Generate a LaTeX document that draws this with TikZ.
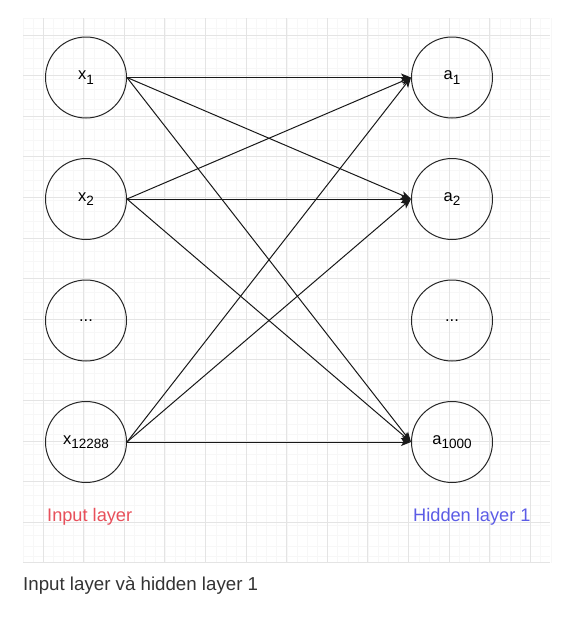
\documentclass[tikz,border=0pt]{standalone}
\usepackage{fontspec}
\setmainfont{Liberation Sans}
\definecolor{gridmajor}{HTML}{E4E4E4}
\definecolor{gridminor}{HTML}{F7F7F7}
\definecolor{inputred}{HTML}{E8505B}
\definecolor{hiddenblue}{HTML}{5C5CE6}
\definecolor{captiongray}{HTML}{333333}
\usetikzlibrary{arrows.meta}
\newcommand{\lsub}[1]{\raisebox{-4.5pt}{\fontsize{13.5pt}{13.5pt}\selectfont #1}}

\begin{document}
\begin{tikzpicture}[x=1pt, y=-1pt,
    neuron/.style={draw=black!85, line width=1pt, circle, minimum size=81pt, inner sep=0pt,
                   font=\fontsize{16.5pt}{16.5pt}\selectfont},
    wgt/.style={-{Stealth[length=10pt, width=8pt, inset=2.5pt]}, black!90, line width=1pt},
    lyr/.style={anchor=west, inner sep=0pt, font=\fontsize{18.2pt}{18.2pt}\selectfont}]
    \useasboundingbox (0,0) rectangle (577,627);
    \fill[white] (0,0) rectangle (577,627);
    % grid
    \foreach \gx in {0,...,52} \draw[gridminor, line width=0.6pt] (23+10.15*\gx,18) -- (23+10.15*\gx,563);
    \foreach \gy in {0,...,53} \draw[gridminor, line width=0.6pt] (23,18+10.15*\gy) -- (550,18+10.15*\gy);
    \foreach \gx in {0,...,12} \draw[gridmajor, line width=0.8pt] (43+40.6*\gx,18) -- (43+40.6*\gx,563);
    \foreach \gy in {0,...,13} \draw[gridmajor, line width=0.8pt] (23,35+40.6*\gy) -- (550,35+40.6*\gy);
    % input layer
    \node[neuron] (x1) at (86,77.5) {x\lsub{1}};
    \node[neuron] (x2) at (86,199) {x\lsub{2}};
    \node[neuron] (xdots) at (86,320.5) {...};
    \node[neuron] (xn) at (86,442) {x\lsub{12288}};
    % hidden layer 1
    \node[neuron] (a1) at (452,77.5) {a\lsub{1}};
    \node[neuron] (a2) at (452,199) {a\lsub{2}};
    \node[neuron] (adots) at (452,320.5) {...};
    \node[neuron] (an) at (452,442) {a\lsub{1000}};
    % weights
    \draw[wgt] (x1.east) -- (a1.west);
    \draw[wgt] (x1.east) -- (a2.west);
    \draw[wgt] (x1.east) -- (an.west);
    \draw[wgt] (x2.east) -- (a1.west);
    \draw[wgt] (x2.east) -- (a2.west);
    \draw[wgt] (x2.east) -- (an.west);
    \draw[wgt] (xn.east) -- (a1.west);
    \draw[wgt] (xn.east) -- (a2.west);
    \draw[wgt] (xn.east) -- (an.west);
    % labels
    \node[lyr, text=inputred] (inlbl) at (47,517) {Input layer};
    \node[lyr, text=hiddenblue] (hidlbl) at (413,517) {Hidden layer 1};
    \node[lyr, text=captiongray, font=\fontsize{18.7pt}{18.7pt}\selectfont] (caption) at (23,586) {Input layer và hidden layer 1};
  \end{tikzpicture}
\end{document}
